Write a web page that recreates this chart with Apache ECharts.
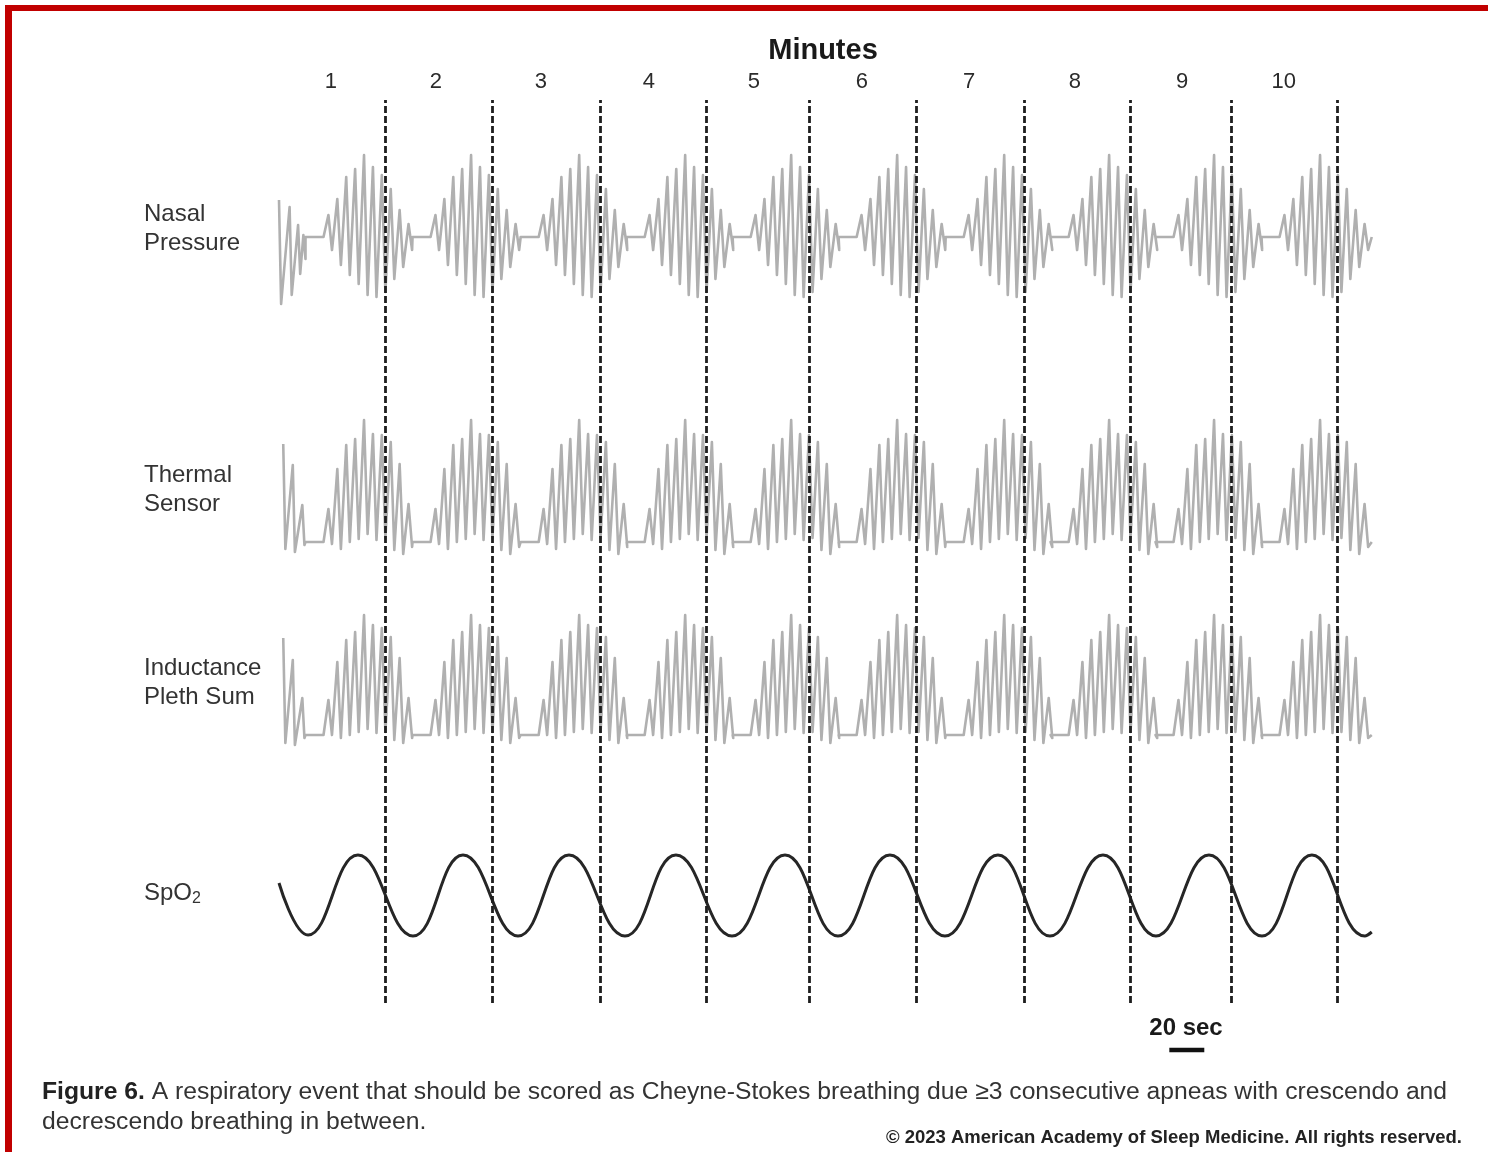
<!DOCTYPE html>
<html>
<head>
<meta charset="utf-8">
<title>Figure 6 - Cheyne-Stokes breathing</title>
<script src="https://cdn.jsdelivr.net/npm/echarts@6/dist/echarts.min.js"></script>
<style>
  html, body { margin: 0; padding: 0; background: #fff; }
  #chart { width: 1488px; height: 1152px; }
</style>
</head>
<body>
<div id="chart"></div>
<script>
// time axis is in minutes, 0 = start of the trace
var minuteLabels = ['1', '2', '3', '4', '5', '6', '7', '8', '9', '10'];
var minutePos = [0.49, 1.48, 2.47, 3.49, 4.48, 5.50, 6.51, 7.51, 8.52, 9.48];
var dashTimes = [1.0, 2.01, 3.03, 4.03, 5.0, 6.01, 7.03, 8.03, 8.98, 9.98];

// start of each central apnea (flat segment)
var apneaStart = [0.25, 1.26, 2.28, 3.28, 4.28, 5.28, 6.29, 7.28, 8.27, 9.27];
var apneaLen = 0.17;
var breathLen = 0.084;
var traceEnd = 10.31;

// nasal pressure, one crescendo/decrescendo run (up peaks, down troughs)
var nasalUp = [22, 38, 60, 68, 82, 70, 62, 48, 27, 13];
var nasalDown = [13, 28, 38, 47, 58, 60, 55, 42, 30, 13];
var nasalHeadTimes = [0.0, 0.10, 0.18, 0.23];
var nasalHeadUp = [37, 30, 12, 2];
var nasalHeadDown = [67, 58, 37, 22];

// thermal sensor (peaks above flat baseline, troughs near it)
var thermalUp = [33, 73, 97, 103, 122, 108, 107, 100, 78, 38];
var thermalTrough = [2, 7, 0, -3, -8, -2, -4, 8, 12, 5];
var thermalHeadTimes = [0.04, 0.13, 0.22];
var thermalHeadUp = [98, 77, 37];
var thermalHeadTrough = [7, 10, 3];

// inductance pleth sum
var pleUp = [35, 73, 95, 103, 120, 110, 107, 98, 77, 37];
var pleTrough = [0, 3, 0, -3, -6, -2, -3, 5, 8, 3];
var pleHeadTimes = [0.04, 0.13, 0.22];
var pleHeadUp = [97, 75, 37];
var pleHeadTrough = [8, 10, 3];

// SpO2 turning points
var spo2Times = [0.0, 0.274, 0.745, 1.264, 1.736, 2.255, 2.736, 3.264, 3.745, 4.274, 4.774,
  5.274, 5.764, 6.283, 6.783, 7.274, 7.774, 8.274, 8.774, 9.274, 9.745, 10.245, 10.31];
var spo2Values = [12, -40, 40, -41, 40, -41, 40, -41, 40, -41, 40,
  -41, 40, -41, 40, -41, 40, -41, 40, -41, 40, -41, -37];

var scaleBar = [8.40, 8.73];

function neg(a) { return a.map(function (v) { return -v; }); }

function respTrace(headT, headUp, headLow, up, low) {
  var d = [];
  for (var h = 0; h < headT.length; h++) {
    d.push([headT[h], headUp[h]]);
    d.push([headT[h] + 0.02, headLow[h]]);
  }
  for (var k = 0; k < apneaStart.length; k++) {
    var a = apneaStart[k];
    d.push([a, 0]);
    d.push([a + apneaLen, 0]);
    for (var i = 0; i < up.length; i++) {
      var t0 = a + apneaLen + i * breathLen;
      if (t0 + 0.05 > traceEnd) break;
      d.push([t0 + breathLen * 0.55, up[i]]);
      d.push([t0 + breathLen * 0.95, low[i]]);
    }
  }
  d.push([traceEnd, 0]);
  return d;
}

var nasalData = respTrace(nasalHeadTimes, nasalHeadUp, neg(nasalHeadDown), nasalUp, neg(nasalDown));
var thermalData = respTrace(thermalHeadTimes, thermalHeadUp, neg(thermalHeadTrough), thermalUp, neg(thermalTrough));
var pleData = respTrace(pleHeadTimes, pleHeadUp, neg(pleHeadTrough), pleUp, neg(pleTrough));
var spo2Data = spo2Times.map(function (t, i) { return [t, spo2Values[i]]; });

var LEFT = 279, WIDTH = 1097, XMAX = 10.35;
var FONT = '"Liberation Sans", Arial, sans-serif';
var TRACE = '#b0b0b0';

function xAx(idx, extra) {
  var o = { type: 'value', gridIndex: idx, min: 0, max: XMAX, show: false };
  return Object.assign(o, extra || {});
}
function yAx(idx, mn, mx) {
  return { type: 'value', gridIndex: idx, min: mn, max: mx, show: false };
}
function respSeries(name, idx, data) {
  return {
    name: name, type: 'line', xAxisIndex: idx, yAxisIndex: idx,
    data: data, showSymbol: false, silent: true,
    lineStyle: { color: TRACE, width: 2.6, join: 'round' }, z: 2
  };
}

var chart = echarts.init(document.getElementById('chart'), null, { renderer: 'canvas' });

chart.setOption({
  backgroundColor: '#fff',
  animation: false,
  grid: [
    { left: LEFT, width: WIDTH, top: 137, height: 200 },   // nasal: 0 at y 237
    { left: LEFT, width: WIDTH, top: 402, height: 160 },   // thermal: 0 at y 542
    { left: LEFT, width: WIDTH, top: 595, height: 160 },   // pleth: 0 at y 735
    { left: LEFT, width: WIDTH, top: 845, height: 100 },   // spo2: 0 at y 895
    { left: LEFT, width: WIDTH, top: 100, height: 903 },   // dashed minute lines
    { left: LEFT, width: WIDTH, top: 1045, height: 10 }    // scale bar
  ],
  xAxis: [
    xAx(0), xAx(1), xAx(2), xAx(3),
    xAx(4, {
      show: true, position: 'top',
      axisLine: { show: false }, axisTick: { show: false }, splitLine: { show: false },
      axisLabel: {
        customValues: minutePos,
        margin: 7,
        fontSize: 22,
        fontFamily: FONT,
        color: '#2b2b2b',
        formatter: function (v) {
          var i = minutePos.indexOf(v);
          return i >= 0 ? minuteLabels[i] : '';
        }
      }
    }),
    xAx(5)
  ],
  yAxis: [
    yAx(0, -100, 100), yAx(1, -20, 140), yAx(2, -20, 140), yAx(3, -50, 50),
    yAx(4, 0, 1), yAx(5, 0, 1)
  ],
  series: [
    respSeries('Nasal Pressure', 0, nasalData),
    respSeries('Thermal Sensor', 1, thermalData),
    respSeries('Inductance Pleth Sum', 2, pleData),
    {
      name: 'SpO2', type: 'line', xAxisIndex: 3, yAxisIndex: 3,
      data: spo2Data, showSymbol: false, silent: true, smooth: 0.45,
      lineStyle: { color: '#262626', width: 3 }, z: 2
    },
    {
      name: 'minutes', type: 'line', xAxisIndex: 4, yAxisIndex: 4,
      data: [], silent: true, z: 5,
      markLine: {
        silent: true,
        symbol: ['none', 'none'],
        label: { show: false },
        lineStyle: { type: [7, 3], color: '#1e1e1e', width: 2.8 },
        data: dashTimes.map(function (t) { return { xAxis: t }; })
      }
    },
    {
      name: 'scale', type: 'line', xAxisIndex: 5, yAxisIndex: 5,
      data: [[scaleBar[0], 0.5], [scaleBar[1], 0.5]],
      showSymbol: false, silent: true,
      lineStyle: { color: '#111', width: 4.5 }
    }
  ],
  graphic: [
    { type: 'rect', shape: { x: 5, y: 5, width: 1483, height: 6 }, style: { fill: '#c10000' } },
    { type: 'rect', shape: { x: 5, y: 5, width: 7, height: 1147 }, style: { fill: '#c10000' } },
    {
      type: 'text', x: 823, y: 51,
      style: { text: 'Minutes', fontSize: 29, fontWeight: 'bold', fontFamily: FONT, fill: '#1a1a1a',
        textAlign: 'center', textVerticalAlign: 'middle' }
    },
    {
      type: 'text', x: 144, y: 200,
      style: { text: 'Nasal\nPressure', fontSize: 24, lineHeight: 29, fontFamily: FONT, fill: '#333',
        textAlign: 'left', textVerticalAlign: 'top' }
    },
    {
      type: 'text', x: 144, y: 461,
      style: { text: 'Thermal\nSensor', fontSize: 24, lineHeight: 29, fontFamily: FONT, fill: '#333',
        textAlign: 'left', textVerticalAlign: 'top' }
    },
    {
      type: 'text', x: 144, y: 654,
      style: { text: 'Inductance\nPleth Sum', fontSize: 24, lineHeight: 29, fontFamily: FONT, fill: '#333',
        textAlign: 'left', textVerticalAlign: 'top' }
    },
    {
      type: 'text', x: 144, y: 878,
      style: {
        text: '{a|SpO}{b|2}',
        textAlign: 'left', textVerticalAlign: 'top',
        rich: {
          a: { fontSize: 24, fontFamily: FONT, fill: '#333', lineHeight: 30 },
          b: { fontSize: 16, fontFamily: FONT, fill: '#333', lineHeight: 30, padding: [11, 0, 0, 0] }
        }
      }
    },
    {
      type: 'text', x: 1186, y: 1028,
      style: { text: '20 sec', fontSize: 24, fontWeight: 'bold', fontFamily: FONT, fill: '#1a1a1a',
        textAlign: 'center', textVerticalAlign: 'middle' }
    },
    {
      type: 'text', x: 42, y: 1077,
      style: {
        text: '{b|Figure 6.} A respiratory event that should be scored as Cheyne-Stokes breathing due \u22653 consecutive apneas with crescendo and\ndecrescendo breathing in between.',
        fontSize: 24.7, lineHeight: 30, fontFamily: FONT, fill: '#333',
        textAlign: 'left', textVerticalAlign: 'top',
        rich: { b: { fontSize: 24.7, fontWeight: 'bold', fontFamily: FONT, fill: '#222', lineHeight: 30 } }
      }
    },
    {
      type: 'text', x: 1462, y: 1138,
      style: { text: '\u00a9 2023 American Academy of Sleep Medicine. All rights reserved.',
        fontSize: 18.5, fontWeight: 'bold', fontFamily: FONT, fill: '#222',
        textAlign: 'right', textVerticalAlign: 'middle' }
    }
  ]
});
</script>
</body>
</html>
